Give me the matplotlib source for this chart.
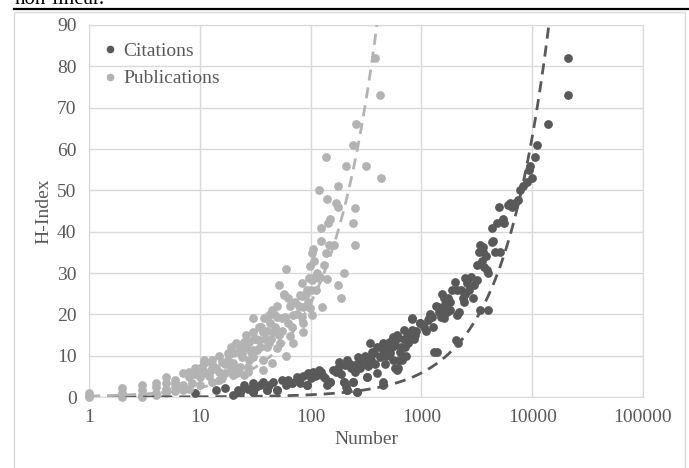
import matplotlib
matplotlib.use("Agg")
import matplotlib.pyplot as plt
from matplotlib.lines import Line2D
from matplotlib.patches import Rectangle
import numpy as np

# Citations: (number, h-index)
cit_number = [9, 14, 17, 20, 22, 23, 25, 27, 30, 30, 32, 35, 37, 40, 42, 46, 50, 55, 60, 62,
              68, 75, 80, 85, 93, 95, 100, 105, 115, 120, 130, 140, 150, 160, 175, 190, 200, 205, 210, 215,
              215, 225, 240, 250, 265, 270, 280, 300, 310, 325, 345, 350, 370, 380, 400, 420, 450, 450, 450, 450,
              490, 490, 520, 560, 560, 580, 600, 600, 620, 620, 630, 670, 690, 760, 820, 820, 830, 980, 980, 1150,
              1250, 1270, 1300, 1380, 1400, 1500, 1550, 1600, 1600, 1600, 1700, 1750, 1800, 2000, 2050, 2100, 2100, 2150, 2200, 2350,
              2400, 2450, 2600, 2900, 3150, 3200, 3400, 3400, 3600, 3600, 3700, 3900, 4000, 4000, 4300, 4300, 4400, 5100, 5400, 5600,
              6300, 6600, 7400, 7700, 8200, 9600, 10000, 10600, 11000, 14000, 21000, 21000,
              260, 290, 330, 360, 400, 430, 470, 500, 540, 650, 700, 720, 750, 850, 900, 1100, 1200, 1350, 1450, 1800,
              1900, 2300, 2500, 2800, 3000, 3300, 3500, 4800, 4600, 5000, 6000, 7000, 9000, 9300,
              150, 200, 240, 325, 93, 68, 50, 40, 215, 265, 30, 23,
              110, 125, 135, 170, 180, 230, 320, 440, 480, 530, 580, 640, 710, 780, 870, 1050, 1180, 1650, 2700, 3800]
cit_hindex = [1, 1.7, 2.2, 0.5, 1.7, 1.2, 2.9, 2, 3.4, 1.2, 2.5, 3, 3.6, 1.7, 3, 3.6, 1.7, 4, 3, 4.1,
              3.4, 4.8, 3.4, 5, 2.9, 5.8, 4.5, 6, 5.3, 6.5, 5, 3, 3.6, 6.5, 7, 5.5, 3.6, 7.7, 2.4, 9,
              1.7, 8, 3.6, 6, 1.2, 9.7, 7, 8.5, 10, 4.8, 13, 9, 10.6, 8, 5.8, 9.7, 11.4, 13, 3.6, 2.9,
              11.4, 12.6, 10.6, 14.5, 9, 7, 15, 6.5, 14.3, 7, 9, 9, 16.2, 13, 16.2, 18.9, 19, 17.9, 18, 18.6,
              19.3, 17, 11, 11, 21.8, 19.4, 25, 24, 21.5, 19, 20.5, 24, 23, 27.8, 13.8, 25.9, 19.8, 13, 20.5, 24,
              23, 28.8, 27.6, 24, 28.3, 32, 36.8, 21, 35, 36.3, 31.5, 30.7, 30, 21, 37.5, 41, 37.7, 35, 43, 42,
              47, 46, 47.7, 50, 51, 56, 53, 58, 61, 66, 73, 82,
              8, 9, 7.5, 11, 12, 10, 8, 13, 12, 12, 14, 10, 15, 14, 16, 16, 20, 22, 20.5, 21,
              26, 26, 25, 29, 27, 35, 33, 42, 35, 46, 46.5, 47, 52, 55,
              3.6, 3.6, 3.6, 4.8, 2.9, 3.4, 1.7, 1.7, 1.7, 1.2, 1.2, 1.2,
              5, 6, 4.5, 6, 8.5, 7, 9.5, 12, 10, 13.5, 12.5, 11, 12, 15, 15, 17, 19, 22.5, 26, 34]

# Publications: (number, h-index)
pub_number = [1, 1, 1, 2, 2, 2, 3, 3, 3, 4, 4, 4, 5, 5, 5, 6, 6, 6, 7, 7,
              7, 8, 8.5, 8, 9, 10, 10, 10, 10.5, 11, 12.5, 13, 13, 15, 15, 16, 17, 18, 20, 20,
              20, 21, 22, 23, 24, 24, 25, 25, 25, 27, 27, 28, 30, 30, 30, 30, 33, 34, 37, 37,
              37, 40, 42, 42, 45, 46, 50, 50, 52, 53, 57, 57, 59, 60, 60, 63, 65, 68, 70, 70,
              80, 83, 84, 84, 86, 86, 86, 97, 99, 99, 103, 103, 103, 105, 118, 118, 122, 125, 125, 127,
              138, 138, 142, 142, 145, 146, 150, 163, 170, 175, 175, 178, 190, 200, 210, 240, 240, 250, 250, 255,
              315, 378, 420, 430,
              15, 18, 22, 26, 28, 32, 35, 36, 40, 44, 48, 55, 38, 45, 50, 55, 65, 75, 90, 95,
              110, 115, 100, 12, 14, 16, 19, 9, 11, 6, 8, 5, 4, 3, 2,
              11, 13, 17, 19, 23, 26, 29, 31, 34, 39, 43, 47, 52, 62, 72, 78, 92, 108, 112, 132]
pub_hindex = [0, 1, 0.3, 0, 1, 2.2, 0.5, 1.7, 2.9, 1, 2.4, 3.4, 2, 3.4, 4.8, 1.5, 3.4, 4.1, 1.7, 2.9,
              5.8, 4.8, 3.4, 6, 7, 2.9, 4.8, 7, 7, 8.2, 6.5, 9, 3.6, 6, 4.1, 8.5, 5.8, 10.6, 8.2, 10.6,
              5.3, 13, 6.5, 7.3, 10.6, 9.7, 13.3, 13, 5.3, 7.3, 6, 13.3, 19, 15.7, 11.4, 9.7, 11.4, 13.8, 15.7, 9,
              6.5, 12, 19.8, 13, 8.2, 15.7, 19.4, 11.8, 27, 13, 24.7, 25, 19.4, 31, 9.9, 24, 14.8, 17, 19.8, 13,
              24.7, 24.4, 27.6, 19.4, 21.8, 18, 15.7, 28.8, 31.7, 21.5, 34.8, 19.8, 28.3, 35.8, 28.8, 50, 29, 41, 37.8, 21.8,
              58, 34.8, 48, 28.5, 42, 36.8, 43, 36.8, 47, 51, 27, 46, 24, 30, 56, 61, 42, 45.8, 36.8, 66,
              56, 82, 73, 53,
              10, 9, 11, 12, 9, 14, 12, 17, 16, 14, 17, 16, 19, 21, 22, 19, 22, 20, 25, 23,
              29, 30, 26, 5, 7, 4.5, 7, 5.5, 6, 2.5, 2, 1, 0.5, 0, 0.5,
              9, 8, 8, 12, 12, 15, 11, 14, 17, 14, 18, 20, 15, 18, 23, 22, 26, 33, 26, 32]

# trend lines (power fits)
cit_trend = (0.0046, 1.034)
pub_trend = (0.227, 1.0)

x_ticks = [1, 10, 100, 1000, 10000, 100000]
y_ticks = list(range(0, 100, 10))

dark = "#595959"
light = "#b3b3b3"
grid = "#d9d9d9"
serif = ["Liberation Serif", "DejaVu Serif"]

plt.rcParams["font.family"] = serif

fig = plt.figure(figsize=(6.89, 4.68), dpi=100)
fig.patch.set_facecolor("white")

# page bits around the chart
fig.text(15 / 689, 1 - 4 / 468, "non-linear.", fontsize=15, color="black", va="baseline")
fig.add_artist(Line2D([14 / 689, 1.0], [1 - 9 / 468, 1 - 9 / 468], color="black", lw=1.6))
fig.add_artist(Rectangle((14 / 689, -0.05), 671 / 689, 1.05 - 12 / 468,
                         fill=False, edgecolor=grid, lw=1))

ax = fig.add_axes([89 / 689, 71 / 468, 554 / 689, 372 / 468])
ax.set_xscale("log")
ax.set_xlim(1, 100000)
ax.set_ylim(0, 90)
ax.set_xticks(x_ticks)
ax.set_xticklabels([str(t) for t in x_ticks])
ax.set_yticks(y_ticks)
ax.minorticks_off()
ax.grid(True, color=grid, lw=1)
ax.set_axisbelow(True)
for s in ax.spines.values():
    s.set_color(grid)
ax.tick_params(length=0, labelsize=14, labelcolor=dark, pad=9)

ax.scatter(cit_number, cit_hindex, s=40, color=dark, lw=0, clip_on=False, zorder=3)
ax.scatter(pub_number, pub_hindex, s=40, color=light, lw=0, clip_on=False, zorder=4)

xs = np.logspace(0, 5, 400)
a, b = cit_trend
ax.plot(xs, a * xs ** b, color=dark, lw=2, ls=(0, (4, 2.5)), zorder=5)
a, b = pub_trend
ax.plot(xs, a * xs ** b, color=light, lw=2, ls=(0, (4, 2.5)), zorder=5)

ax.set_xlabel("Number", fontsize=14, color=dark, labelpad=3)
ax.set_ylabel("H-Index", fontsize=14, color=dark, labelpad=3)

handles = [Line2D([], [], ls="", marker="o", ms=4.5, color=dark),
           Line2D([], [], ls="", marker="o", ms=4.5, color=light)]
ax.legend(handles, ["Citations", "Publications"], loc="upper left",
          bbox_to_anchor=(-0.015, 1.0), frameon=False, fontsize=14,
          handletextpad=0.1, labelspacing=0.5, labelcolor=dark, handlelength=1.2)

fig.savefig("out.png", dpi=100)
